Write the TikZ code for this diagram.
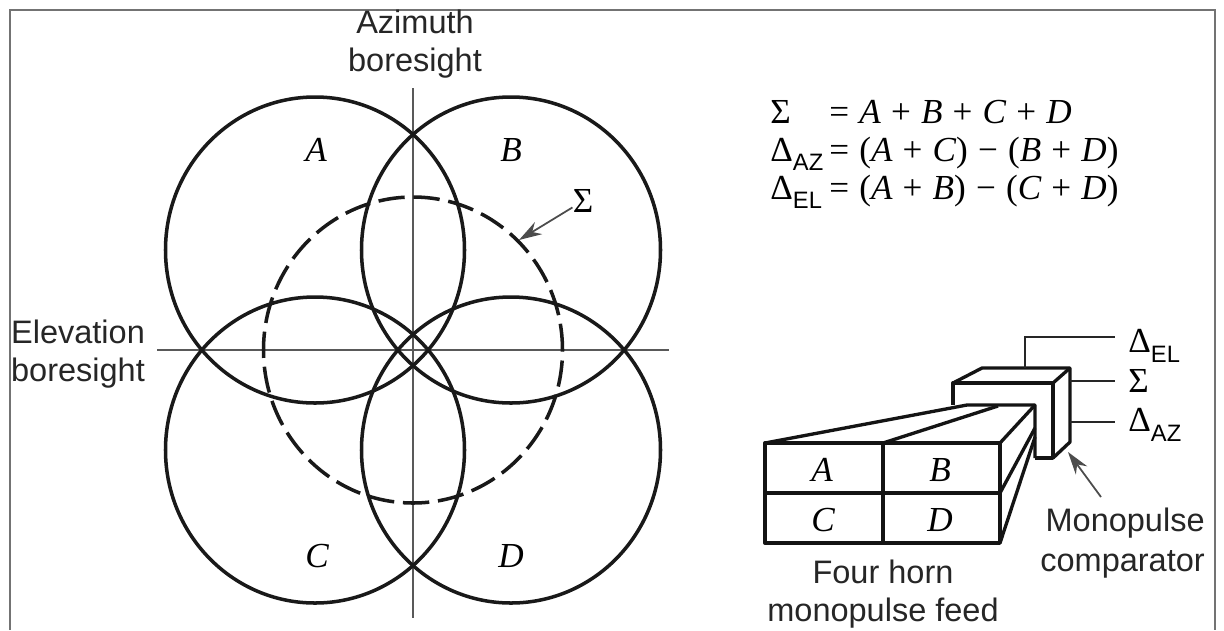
\documentclass[tikz,border=0pt]{standalone}
\usepackage{fontspec}
\setmainfont{Liberation Sans}
\newfontfamily\varfont{Liberation Serif}
\usetikzlibrary{arrows.meta,shapes.geometric}
\newcommand{\varlab}[1]{{\varfont\itshape #1}}
\newcommand{\dellab}[1]{{\varfont\symbol{"0394}}\raisebox{-0.6ex}{\fontsize{13.5}{13.5}\selectfont\rmfamily\normalfont #1}}
\newcommand{\eqnfont}{\fontsize{20}{22}\selectfont\varfont\spaceskip=0.29em\relax}
\begin{document}
\begin{tikzpicture}[x=0.02cm, y=-0.02cm, font=\fontsize{18.5}{22}\selectfont]
    \tikzset{beam/.style={ellipse, draw, line width=2pt, black!90, minimum width=299*0.02cm, minimum height=306*0.02cm, inner sep=0pt}}
    \tikzset{boresight/.style={line width=0.7pt, black!65}}
    \tikzset{horn/.style={line width=1.9pt, black!92, line join=round}}
    \tikzset{lead/.style={line width=1.3pt, black!85}}
    \tikzset{pointer/.style={line width=1pt, black!70, -{Stealth[length=13pt, width=8pt]}}}
    \tikzset{varname/.style={font=\fontsize{20}{22}\selectfont\varfont\itshape, inner sep=0pt}}
    \tikzset{eqn/.style={font=\eqnfont, anchor=base west, inner sep=0pt}}
    \tikzset{caption/.style={align=center, inner sep=0pt, black!85}}
    \useasboundingbox (0, 0) rectangle (1224, 630);
    \fill[white] (0, 0) rectangle (1224, 630);

    % Outer frame
    \draw[line width=1.6pt, black!55] (10, 630) -- (10, 10) -- (1215, 10) -- (1215, 630);

    % Boresight axes
    \coordinate (azTop) at (413, 88);
    \coordinate (azBot) at (413, 618);
    \coordinate (elLeft) at (157, 350);
    \coordinate (elRight) at (669, 350);
    \draw[boresight] (azTop) -- (azBot);
    \draw[boresight] (elLeft) -- (elRight);

    % Four beams and the sum beam
    \node[beam] (beamA) at (315, 250) {};
    \node[beam] (beamB) at (511, 250) {};
    \node[beam] (beamC) at (315, 450) {};
    \node[beam] (beamD) at (511, 450) {};
    \node[beam, dash pattern=on 15pt off 5pt] (beamSum) at (413, 350) {};

    % Beam names
    \node[varname] (nameA) at (316, 150) {A};
    \node[varname] (nameB) at (511, 150) {B};
    \node[varname] (nameC) at (317, 556) {C};
    \node[varname] (nameD) at (511, 556) {D};

    % Axis captions
    \node[caption] (azCap) at (415, 44) {Azimuth\\boresight};
    \node[caption] (elCap) at (78, 354) {Elevation\\boresight};

    % Sum beam pointer
    \node[varname, font=\fontsize{20}{22}\selectfont\varfont] (sumName) at (583, 201) {Σ};
    \draw[pointer] (sumName) -- (519, 240);

    % Equations
    \node[eqn] (eqSum) at (770, 123) {Σ};
    \node[eqn] (eqSumR) at (829, 123) {= \varlab{A} + \varlab{B} + \varlab{C} + \varlab{D}};
    \node[eqn] (eqAz) at (770, 161) {\dellab{AZ}};
    \node[eqn] (eqAzR) at (829, 161) {= (\varlab{A} + \varlab{C}) − (\varlab{B} + \varlab{D})};
    \node[eqn] (eqEl) at (770, 199) {\dellab{EL}};
    \node[eqn] (eqElR) at (829, 199) {= (\varlab{A} + \varlab{B}) − (\varlab{C} + \varlab{D})};

    % Comparator block corners
    \coordinate (cpA) at (953, 383);
    \coordinate (cpB) at (1053, 383);
    \coordinate (cpC) at (1053, 458);
    \coordinate (cpD) at (1035, 458);
    \coordinate (cpE) at (982, 368);
    \coordinate (cpF) at (1070, 368);
    \coordinate (cpG) at (1070, 442);
    \coordinate (cpH) at (953, 405);

    % Comparator block
    \draw[horn] (cpH) -- (cpA) -- (cpB) -- (cpC) -- (cpD);
    \draw[horn] (cpA) -- (cpE) -- (cpF) -- (cpG) -- (cpC);
    \draw[horn] (cpB) -- (cpF);

    % Horn corners
    \coordinate (fTL) at (765, 443);
    \coordinate (fTM) at (883, 443);
    \coordinate (fTR) at (1000, 443);
    \coordinate (fML) at (765, 493);
    \coordinate (fMR) at (1000, 493);
    \coordinate (fBL) at (765, 543);
    \coordinate (fBM) at (883, 543);
    \coordinate (fBR) at (1000, 543);
    \coordinate (bTL) at (967, 405);
    \coordinate (bTM) at (998, 406);
    \coordinate (bTR) at (1035, 405);
    \coordinate (bMR) at (1035, 428);
    \coordinate (bBR) at (1035, 437);

    % Four horn feed
    \draw[horn] (fTL) rectangle (fBR);
    \draw[horn] (fML) -- (fMR);
    \draw[horn] (fTM) -- (fBM);
    \draw[horn] (fTL) -- (bTL) -- (bTR) -- (cpD);
    \draw[horn] (fTM) -- (bTM);
    \draw[horn] (fTR) -- (bTR);
    \draw[horn] (fMR) -- (bMR);
    \draw[horn] (fBR) -- (bBR);

    % Horn names
    \node[varname] (hornA) at (822, 470) {A};
    \node[varname] (hornB) at (940, 470) {B};
    \node[varname] (hornC) at (823, 520) {C};
    \node[varname] (hornD) at (940, 520) {D};

    % Comparator outputs
    \node[eqn, anchor=west] (outEl) at (1128, 346) {\dellab{EL}};
    \node[eqn, anchor=west] (outSum) at (1128, 381) {Σ};
    \node[eqn, anchor=west] (outAz) at (1128, 425) {\dellab{AZ}};
    \coordinate (elStart) at (1025, 368);
    \coordinate (elEnd) at (1115, 337);
    \coordinate (sumStart) at (1070, 381);
    \coordinate (sumEnd) at (1115, 381);
    \coordinate (azStart) at (1070, 422);
    \coordinate (azEnd) at (1115, 422);
    \draw[lead] (elStart) |- (elEnd);
    \draw[lead] (sumStart) -- (sumEnd);
    \draw[lead] (azStart) -- (azEnd);

    % Feed and comparator captions
    \node[caption] (feedCap) at (883, 594) {Four horn\\monopulse feed};
    \begin{scope}
        \clip (1000, 490) rectangle (1214, 590);
        \node[caption, anchor=north west, align=left, font=\fontsize{18.5}{22.5}\selectfont] (compCap) at (1040, 508) {\hspace*{3pt}Monopulse\\comparator};
    \end{scope}
    \coordinate (compTip) at (1068, 452);
    \coordinate (compTail) at (1101, 497);
    \draw[pointer] (compTail) -- (compTip);
\end{tikzpicture}
\end{document}
